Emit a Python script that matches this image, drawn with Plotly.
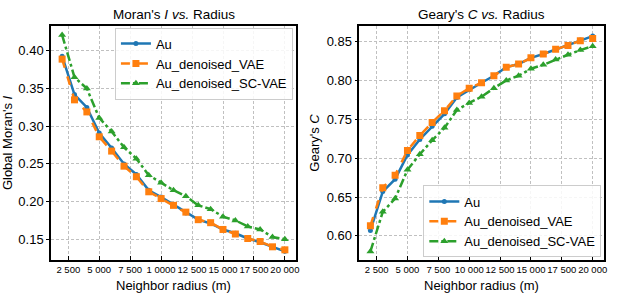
import plotly.graph_objects as go

radius = [2000, 3000, 4000, 5000, 6000, 7000, 8000, 9000, 10000, 11000,
          12000, 13000, 14000, 15000, 16000, 17000, 18000, 19000, 20000]

moran_au = [0.393, 0.342, 0.325, 0.291, 0.271, 0.250, 0.236, 0.215, 0.206, 0.196,
            0.185, 0.176, 0.171, 0.163, 0.158, 0.151, 0.146, 0.140, 0.134]
moran_vae = [0.389, 0.335, 0.319, 0.286, 0.267, 0.247, 0.233, 0.213, 0.204, 0.195,
             0.186, 0.176, 0.172, 0.163, 0.157, 0.151, 0.147, 0.140, 0.136]
moran_scvae = [0.421, 0.365, 0.350, 0.311, 0.293, 0.272, 0.257, 0.235, 0.225, 0.215,
               0.207, 0.195, 0.190, 0.180, 0.175, 0.167, 0.163, 0.153, 0.150]

geary_au = [0.607, 0.657, 0.673, 0.704, 0.724, 0.741, 0.757, 0.778, 0.788, 0.797,
            0.806, 0.817, 0.821, 0.829, 0.834, 0.840, 0.845, 0.852, 0.857]
geary_vae = [0.613, 0.662, 0.678, 0.710, 0.729, 0.746, 0.761, 0.780, 0.790, 0.797,
             0.806, 0.817, 0.821, 0.829, 0.834, 0.840, 0.845, 0.851, 0.854]
geary_scvae = [0.580, 0.631, 0.648, 0.685, 0.705, 0.723, 0.739, 0.762, 0.771, 0.779,
               0.790, 0.800, 0.806, 0.815, 0.820, 0.827, 0.833, 0.839, 0.844]

names = ["Au", "Au_denoised_VAE", "Au_denoised_SC-VAE"]
colors = ["#1f77b4", "#ff7f0e", "#2ca02c"]
dashes = ["solid", "dash", "dashdot"]
symbols = ["circle", "square", "triangle-up"]
msizes = [5, 7, 7]

x_tickvals = [2500, 5000, 7500, 10000, 12500, 15000, 17500, 20000]
x_ticktext_left = ["2 500", "5 000", "7 500", "1 0000", "12 500", "15 000", "17 500", "20 000"]
x_ticktext_right = ["2 500", "5 000", "7 500", "10 000", "12 500", "15 000", "17 500", "20 000"]
moran_yticks = [0.15, 0.20, 0.25, 0.30, 0.35, 0.40]
geary_yticks = [0.60, 0.65, 0.70, 0.75, 0.80, 0.85]

FONT = "Liberation Sans, Arial, sans-serif"

fig = go.Figure()
for i, ys in enumerate([moran_au, moran_vae, moran_scvae]):
    fig.add_trace(go.Scatter(
        x=radius, y=ys, name=names[i], mode="lines+markers",
        line=dict(color=colors[i], width=2.5, dash=dashes[i]),
        marker=dict(symbol=symbols[i], size=msizes[i], color=colors[i]),
        xaxis="x", yaxis="y", legend="legend"))
for i, ys in enumerate([geary_au, geary_vae, geary_scvae]):
    fig.add_trace(go.Scatter(
        x=radius, y=ys, name=names[i], mode="lines+markers",
        line=dict(color=colors[i], width=2.5, dash=dashes[i]),
        marker=dict(symbol=symbols[i], size=msizes[i], color=colors[i]),
        xaxis="x2", yaxis="y2", legend="legend2"))

xcommon = dict(range=[1100, 20900], tickvals=x_tickvals, ticks="inside", ticklen=4,
               tickcolor="black", showline=True, linecolor="black", linewidth=1.5,
               mirror=True, showgrid=True, gridcolor="#c0c0c0", griddash="3px,2px",
               gridwidth=0.8, zeroline=False, tickangle=0, automargin=False,
               tickfont=dict(size=9.5, color="black"))
ycommon = dict(ticks="outside", ticklen=3, tickcolor="black", showline=True,
               linecolor="black", linewidth=1.5, mirror=True, showgrid=True,
               gridcolor="#c0c0c0", griddash="3px,2px", gridwidth=0.8, zeroline=False,
               automargin=False, tickformat=".2f", tickfont=dict(size=13, color="black"))

dl = [0.0825, 0.479]
dr = [0.5814, 0.977]
dy = [0.1246, 0.9125]

fig.update_layout(
    width=618, height=297,
    margin=dict(l=0, r=0, t=0, b=0, autoexpand=False),
    paper_bgcolor="white", plot_bgcolor="white",
    font=dict(family=FONT, color="black"),
    xaxis=dict(xcommon, domain=dl, anchor="y", ticktext=x_ticktext_left),
    yaxis=dict(ycommon, domain=dy, anchor="x", range=[0.1225, 0.433],
               tickvals=moran_yticks,
               title=dict(text="Global Moran's <i>I</i>", font=dict(size=13), standoff=4)),
    xaxis2=dict(xcommon, domain=dr, anchor="y2", ticktext=x_ticktext_right),
    yaxis2=dict(ycommon, domain=dy, anchor="x2", range=[0.569, 0.870],
                tickvals=geary_yticks,
                title=dict(text="Geary's <i>C</i>", font=dict(size=13), standoff=4)),
    legend=dict(x=0.474, y=0.907, xanchor="right", yanchor="top",
                bgcolor="rgba(255,255,255,0.85)", bordercolor="#cccccc", borderwidth=1,
                font=dict(size=13), tracegroupgap=0, itemwidth=30),
    legend2=dict(x=0.973, y=0.133, xanchor="right", yanchor="bottom",
                 bgcolor="rgba(255,255,255,0.85)", bordercolor="#cccccc", borderwidth=1,
                 font=dict(size=13), tracegroupgap=0, itemwidth=30),
    annotations=[
        dict(text="Moran's <i>I</i> <i>vs.</i> Radius", x=sum(dl) / 2, y=1 - 14 / 297,
             xref="paper", yref="paper", showarrow=False, font=dict(size=13.5),
             xanchor="center", yanchor="middle"),
        dict(text="Geary's <i>C</i> <i>vs.</i> Radius", x=sum(dr) / 2, y=1 - 14 / 297,
             xref="paper", yref="paper", showarrow=False, font=dict(size=13.5),
             xanchor="center", yanchor="middle"),
        dict(text="Neighbor radius (m)", x=sum(dl) / 2, y=1 - 285 / 297,
             xref="paper", yref="paper", showarrow=False, font=dict(size=13),
             xanchor="center", yanchor="middle"),
        dict(text="Neighbor radius (m)", x=sum(dr) / 2, y=1 - 285 / 297,
             xref="paper", yref="paper", showarrow=False, font=dict(size=13),
             xanchor="center", yanchor="middle"),
    ],
)

fig.write_html(
    "out.html",
    config={"displayModeBar": False},
    post_script="document.body.style.margin='0';document.body.style.overflow='hidden';",
)
